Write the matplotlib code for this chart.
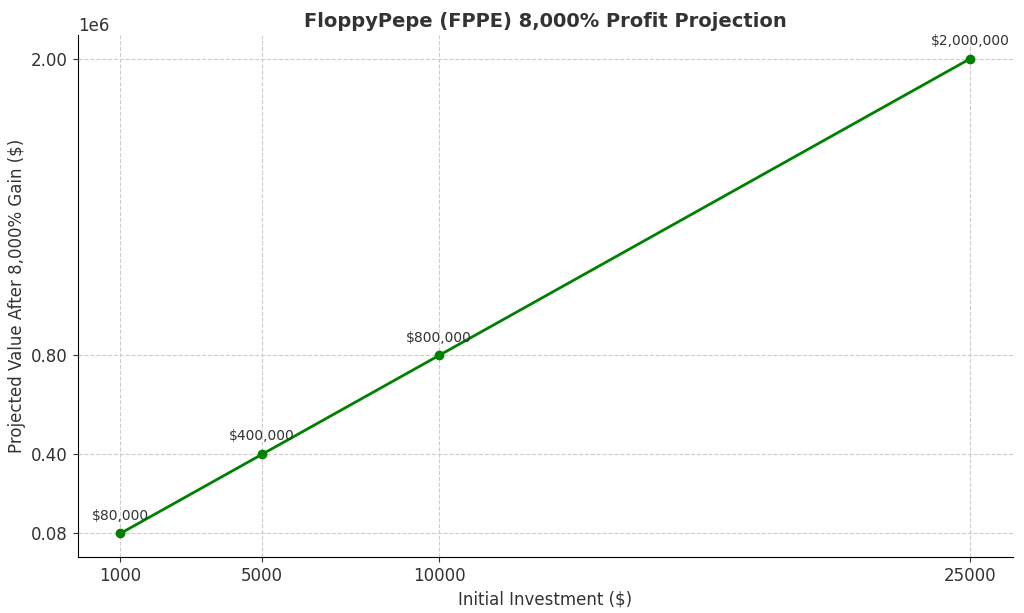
import matplotlib
matplotlib.use("Agg")
import matplotlib.pyplot as plt

investments = [1000, 5000, 10000, 25000]
values = [80000, 400000, 800000, 2000000]
labels = ["$80,000", "$400,000", "$800,000", "$2,000,000"]

fig = plt.figure(figsize=(10.24, 6.13), dpi=100)
ax = fig.add_axes([0.076, 0.091, 0.913, 0.852])
ax.plot(investments, values, color="green", marker="o", linewidth=2, markersize=6)
for x, y, t in zip(investments, values, labels):
    ax.annotate(t, (x, y), textcoords="offset points", xytext=(0, 10), ha="center",
                fontsize=10, color="#333333")
ax.set_xticks(investments)
ax.set_yticks(values)
ax.tick_params(labelsize=12, colors="#333333")
ax.set_title("FloppyPepe (FPPE) 8,000% Profit Projection", fontsize=14, fontweight="bold", color="#333333")
ax.set_xlabel("Initial Investment ($)", fontsize=12, color="#333333")
ax.set_ylabel("Projected Value After 8,000% Gain ($)", fontsize=12, color="#333333")
ax.yaxis.get_offset_text().set_fontsize(12)
ax.yaxis.get_offset_text().set_color("#333333")
ax.grid(True, linestyle="--", color="#cccccc", linewidth=0.8)
ax.spines["top"].set_visible(False)
ax.spines["right"].set_visible(False)
fig.savefig("out.png", dpi=100)
